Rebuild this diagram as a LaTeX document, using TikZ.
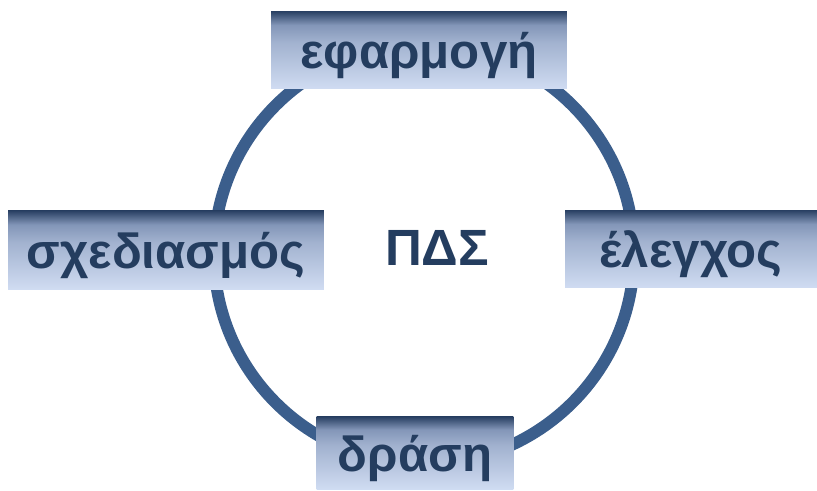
\documentclass[tikz,border=0pt]{standalone}
\usepackage{fontspec}
\setmainfont{Liberation Sans}
\usetikzlibrary{positioning}

\definecolor{ringblue}{HTML}{3B5E8C}
\definecolor{labelblue}{HTML}{243D5F}
\definecolor{boxdark}{HTML}{283F62}
\definecolor{boxmid}{HTML}{8396B8}
\definecolor{boxlight}{HTML}{D0DCF2}
\pgfdeclareverticalshading{boxshade}{100bp}{%
  color(0bp)=(boxlight); color(25bp)=(boxlight); color(55bp)=(boxmid!60!boxlight);
  color(66bp)=(boxmid); color(75bp)=(boxdark); color(100bp)=(boxdark)}

\tikzset{
  stagetext/.style={text=labelblue, inner sep=0pt,
    font=\fontsize{28}{32}\selectfont\bfseries},
  stagebox/.style={shading=boxshade, inner sep=0pt,
    label={[stagetext, yshift=-0.1cm]center:#1}},
}

\begin{document}
\begin{tikzpicture}[x=0.02cm,y=-0.02cm]
\useasboundingbox (0,0) rectangle (817,490);
\draw[ringblue, line width=6.8pt] (424,254) circle (210); % cycle
\node (apply) at (419,50) [stagebox=εφαρμογή, minimum width=5.92cm, minimum height=1.56cm] {};
\node (plan) at (166,250) [stagebox=σχεδιασμός, minimum width=6.32cm, minimum height=1.58cm] {};
\node (check) at (691,249) [stagebox=έλεγχος, minimum width=5.04cm, minimum height=1.56cm] {};
\node (act) at (415,453) [stagebox=δράση, minimum width=3.94cm, minimum height=1.46cm] {};
\node (pds) at (437,248) [stagetext, font=\fontsize{29}{33}\selectfont\bfseries] {ΠΔΣ};
\end{tikzpicture}
\end{document}
